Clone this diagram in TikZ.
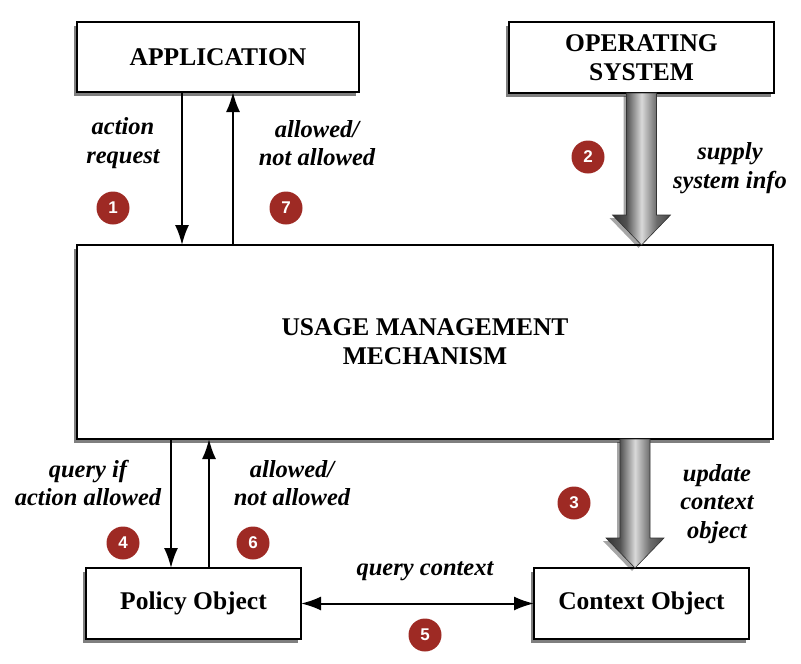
\documentclass[tikz,border=0pt]{standalone}
\usepackage{fontspec}
\setmainfont{Liberation Serif}
\setsansfont{Liberation Sans}
\usepackage{tikz}
\usetikzlibrary{shapes,arrows.meta}
\usetikzlibrary{positioning,shadows,calc}
\definecolor{numred}{RGB}{158,42,36}
\pgfdeclarehorizontalshading{fatshade}{100bp}{color(0bp)=(black!80); color(25bp)=(black!80);
    color(37bp)=(black!68); color(50bp)=(black!15); color(63bp)=(black!58);
    color(75bp)=(black!72); color(100bp)=(black!72)}
\tikzstyle{arrow} = [line width=2pt,-{Latex[length=20pt,width=14pt]}]
\tikzstyle{box} = [
    rectangle, draw=black, line width=1.2pt, fill=white, inner sep=0pt, outer sep=0pt,
    align=center, font=\fontsize{25.5}{29}\selectfont\bfseries,
    drop shadow={shadow xshift=-3.5pt,shadow yshift=-3.5pt,opacity=0.5,fill=black}]
\tikzstyle{lbl} = [align=center, font=\fontsize{24.5}{28.5}\selectfont\bfseries\itshape]
\tikzstyle{num} = [circle, fill=numred, minimum size=33pt, inner sep=0pt, text=white,
    font=\fontsize{17}{17}\selectfont\sffamily\bfseries]
\tikzstyle{fat} = [draw=black!80, line width=0.6pt, shading=fatshade,
    drop shadow={shadow xshift=-3pt,shadow yshift=-3pt,opacity=0.35,fill=black}]
\newcommand{\fatarrow}[2]{%
  \path[fat] ($(#1)+(-15,0)$) -- ($(#2)+(-15,-30)$) -- ($(#2)+(-29,-30)$) -- (#2)
    -- ($(#2)+(29,-30)$) -- ($(#2)+(15,-30)$) -- ($(#1)+(15,0)$) -- cycle;}

\begin{document}
\begin{tikzpicture}[x=1pt,y=-1pt]
\useasboundingbox (0,0) rectangle (801,664);

\node (app) [box, minimum width=282pt, minimum height=70pt] at (218,57) {APPLICATION};
\node (os) [box, minimum width=265pt, minimum height=71pt] at (641.5,57.5) {OPERATING\\SYSTEM};
\node (umm) [box, minimum width=696pt, minimum height=194pt] at (425,342)
    {USAGE MANAGEMENT\\MECHANISM};
\node (policy) [box, minimum width=215pt, minimum height=71pt] at (193.5,603.5) {Policy Object};
\node (context) [box, minimum width=215pt, minimum height=71pt] at (641.5,603.5) {Context Object};

\coordinate (c1) at (182,0);
\coordinate (c7) at (233,0);
\coordinate (c4) at (171,0);
\coordinate (c6) at (209,0);
\coordinate (c3) at (635,0);
\coordinate (t2) at (umm.north -| os);
\coordinate (s3) at (umm.south -| c3);
\coordinate (t3) at (context.north -| c3);

\draw [arrow] (app.south -| c1) -- (umm.north -| c1);
\draw [arrow] (umm.north -| c7) -- (app.south -| c7);
\draw [arrow] (umm.south -| c4) -- (policy.north -| c4);
\draw [arrow] (policy.north -| c6) -- (umm.south -| c6);
\draw [arrow,{Latex[length=20pt,width=14pt]}-{Latex[length=20pt,width=14pt]}] (policy) -- (context);

\fatarrow{os.south}{t2}
\fatarrow{s3}{t3}

\node (l1) [lbl] at (123,143) {action\\request};
\node (l7) [lbl] at (317,143) {allowed/\\not allowed};
\node (l2) [lbl] at (730,168) {supply\\system info};
\node (l4) [lbl] at (88,483) {query if\\action allowed};
\node (l6) [lbl] at (292,483) {allowed/\\not allowed};
\node (l3) [lbl] at (717,504) {update\\context\\object};
\node (l5) [lbl] at (425,571) {query context};

\node (n1) [num] at (113,208) {1};
\node (n7) [num] at (286,208) {7};
\node (n2) [num] at (588,157) {2};
\node (n3) [num] at (574,503) {3};
\node (n4) [num] at (123,543) {4};
\node (n6) [num] at (253,543) {6};
\node (n5) [num] at (425,635) {5};
\end{tikzpicture}
\end{document}
